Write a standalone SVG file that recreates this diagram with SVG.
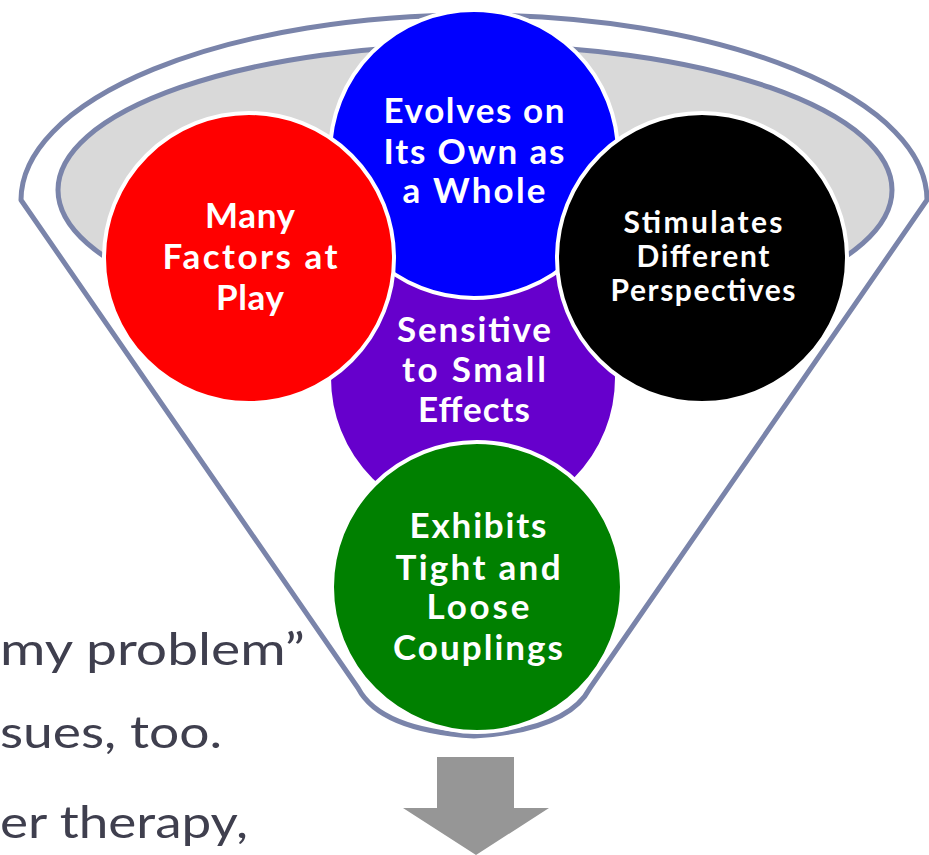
<svg xmlns="http://www.w3.org/2000/svg" width="929" height="855" viewBox="0 0 929 855">
<style>
.bg{font-family:"Lato","Liberation Sans",sans-serif;font-size:45px;fill:#3F3F4E}
.nt{font-family:"Lato","Open Sans","Liberation Sans",sans-serif;font-weight:700;fill:#FFFFFF;text-anchor:middle}
.big{font-size:35px}
.sm{font-size:30px}
.circ{stroke:#FFFFFF;stroke-width:4}
</style>
<rect width="929" height="855" fill="#FFFFFF"/>
<g id="background-text">
<text class="bg" x="0" y="665" textLength="305" lengthAdjust="spacingAndGlyphs">my problem”</text>
<text class="bg" x="0" y="748" textLength="222" lengthAdjust="spacingAndGlyphs">sues, too.</text>
<text class="bg" x="0" y="838" textLength="248" lengthAdjust="spacingAndGlyphs">er therapy,</text>
</g>
<g id="funnel">
<path d="M21,200 A453,185 0 0 1 927,200 L590,688 Q568,730 474,736 Q380,730 358,688 Z" fill="#FFFFFF" stroke="#7A84AA" stroke-width="5" stroke-linejoin="round"/>
<ellipse cx="475" cy="190" rx="417" ry="145" fill="#D9D9D9" stroke="#7A84AA" stroke-width="5"/>
</g>
<g id="node-sensitive">
<circle class="circ" cx="473" cy="378" r="144" fill="#6600CC"/>
<text class="nt big" x="474" y="342" textLength="154">Sensitive</text>
<text class="nt big" x="474" y="382" textLength="144">to Small</text>
<text class="nt big" x="474" y="422" textLength="112">Effects</text>
</g>
<g id="node-evolves">
<circle class="circ" cx="474" cy="154" r="144" fill="#0000FF"/>
<text class="nt big" x="474" y="123" textLength="181">Evolves on</text>
<text class="nt big" x="474" y="164" textLength="181">Its Own as</text>
<text class="nt big" x="474" y="203" textLength="143">a Whole</text>
</g>
<g id="node-many">
<circle class="circ" cx="249" cy="258" r="145" fill="#FF0000"/>
<text class="nt big" x="250" y="228" textLength="90">Many</text>
<text class="nt big" x="250" y="269" textLength="175">Factors at</text>
<text class="nt big" x="250" y="310" textLength="68">Play</text>
</g>
<g id="node-stimulates">
<circle class="circ" cx="702" cy="258" r="145" fill="#000000"/>
<text class="nt sm" x="703" y="233" textLength="159">Stimulates</text>
<text class="nt sm" x="703" y="267" textLength="133">Different</text>
<text class="nt sm" x="703" y="301" textLength="185">Perspectives</text>
</g>
<g id="node-exhibits">
<circle class="circ" cx="477" cy="587" r="145" fill="#008000"/>
<text class="nt big" x="478" y="538" textLength="137">Exhibits</text>
<text class="nt big" x="478" y="580" textLength="165">Tight and</text>
<text class="nt big" x="478" y="619" textLength="103">Loose</text>
<text class="nt big" x="478" y="660" textLength="170">Couplings</text>
</g>
<g id="connectors">
<path id="arrow" d="M437,757 H514 V808 H549 L476,855 L403,808 H437 Z" fill="#969696"/>
</g>
</svg>
